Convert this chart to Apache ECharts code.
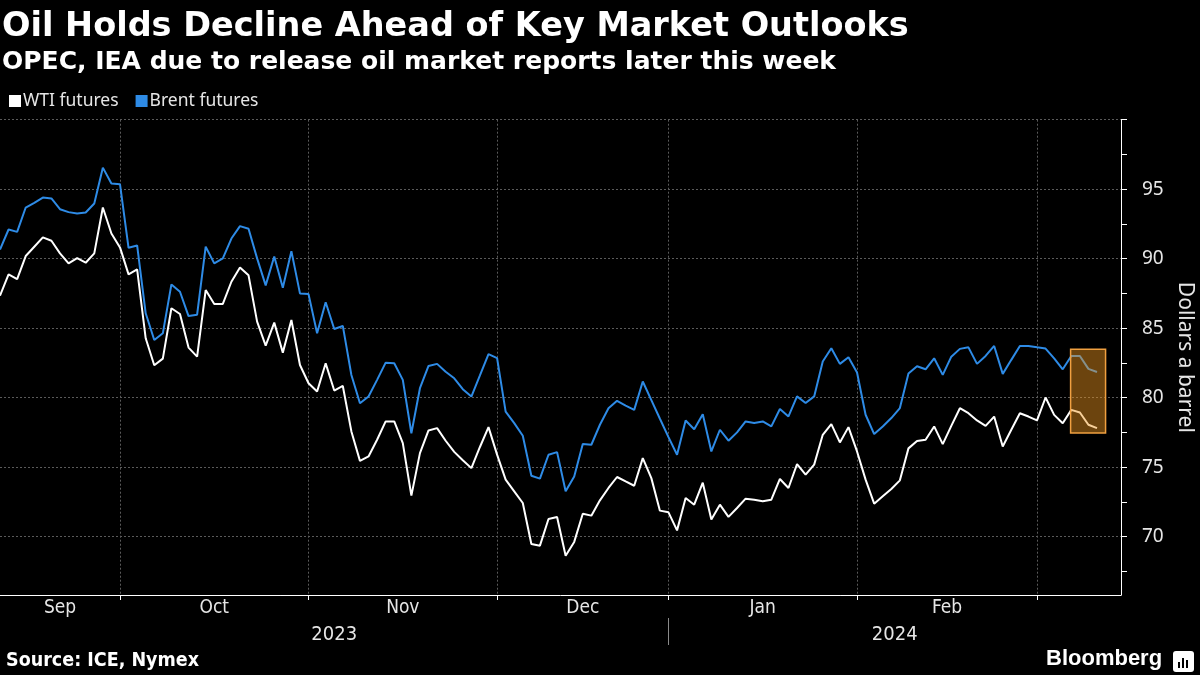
<!DOCTYPE html>
<html><head><meta charset="utf-8">
<script src="https://cdn.jsdelivr.net/npm/echarts@6/dist/echarts.min.js"></script>
<style>html,body{margin:0;padding:0;background:#000}#c{width:1200px;height:675px}</style>
</head><body><div id="c"></div>
<script>
// ---- categories: trading days per month ----
const tradingDays = [
  ['2023-09', [11,12,13,14,15,18,19,20,21,22,25,26,27,28,29]],
  ['2023-10', [2,3,4,5,6,9,10,11,12,13,16,17,18,19,20,23,24,25,26,27,30,31]],
  ['2023-11', [1,2,3,6,7,8,9,10,13,14,15,16,17,20,21,22,23,24,27,28,29,30]],
  ['2023-12', [1,4,5,6,7,8,11,12,13,14,15,18,19,20,21,22,26,27,28,29]],
  ['2024-01', [2,3,4,5,8,9,10,11,12,15,16,17,18,19,22,23,24,25,26,29,30,31]],
  ['2024-02', [1,2,5,6,7,8,9,12,13,14,15,16,19,20,21,22,23,26,27,28,29]],
  ['2024-03', [1,4,5,6,7,8,11]]
];
const monthLabels = ['Sep','Oct','Nov','Dec','Jan','Feb'];
const yearLabels = ['2023','2024'];
const yLabelValues = [70,75,80,85,90,95];
const yTickValues = [67.5,70,72.5,75,77.5,80,82.5,85,87.5,90,92.5,95,97.5,100];
const yGridValues = [70,75,80,85,90,95,100];

// ---- series values ----
const wti = [
 87.34,88.87,88.53,90.19,90.86,91.53,91.29,90.38,89.66,90.04,89.71,90.38,93.68,91.81,90.81,
 88.87,89.23,84.27,82.33,82.81,86.43,86.02,83.60,82.95,87.74,86.74,86.74,88.34,89.37,88.80,85.47,83.74,85.40,83.24,85.59,82.35,81.04,
 80.44,82.47,80.51,80.84,77.57,75.45,75.77,76.97,78.29,78.29,76.73,72.95,76.01,77.64,77.81,76.90,76.10,75.50,74.93,76.45,77.88,75.90,
 74.10,73.26,72.42,69.47,69.35,71.27,71.41,68.63,69.62,71.65,71.51,72.61,73.50,74.29,73.97,73.66,75.65,74.21,71.87,71.75,
 70.45,72.78,72.30,73.88,71.23,72.30,71.42,72.06,72.73,72.66,72.54,72.66,74.15,73.50,75.22,74.46,75.18,77.33,78.10,76.78,77.88,76.13,
 74.10,72.37,72.90,73.43,74.05,76.35,76.88,76.97,77.93,76.66,77.97,79.24,78.88,78.36,77.97,78.64,76.49,77.69,78.88,78.64,78.36,
 80.01,78.76,78.16,79.12,78.93,78.05,77.81
];
const brent = [
 90.66,92.10,91.93,93.68,94.02,94.40,94.33,93.56,93.35,93.25,93.32,93.97,96.55,95.41,95.36,
 90.78,90.95,86.07,84.15,84.63,88.15,87.62,85.87,85.97,90.86,89.66,90.02,91.45,92.34,92.15,90.02,88.08,90.16,87.91,90.54,87.50,87.45,
 84.63,86.86,84.94,85.16,81.63,79.60,80.08,81.28,82.52,82.47,81.28,77.44,80.68,82.28,82.43,81.87,81.39,80.61,80.08,81.60,83.13,82.85,
 79.00,78.17,77.26,74.38,74.17,75.89,76.08,73.26,74.33,76.66,76.61,78.05,79.24,79.77,79.43,79.12,81.16,79.82,78.48,77.16,
 75.89,78.36,77.73,78.80,76.13,77.69,76.90,77.50,78.29,78.17,78.29,77.93,79.18,78.65,80.09,79.61,80.09,82.60,83.56,82.43,82.91,81.81,
 78.77,77.38,77.93,78.53,79.25,81.73,82.26,82.04,82.83,81.64,82.95,83.51,83.62,82.43,83.00,83.72,81.71,82.72,83.72,83.72,83.62,
 83.53,82.83,82.04,83.00,83.00,82.07,81.85
];
const highlight = { from: '2024-03-06', to: '2024-03-11', low: 77.45, high: 83.48 };

// ---- derived ----
const dates = [];
const monthEnds = [];
tradingDays.forEach(([m, days]) => {
  days.forEach(d => dates.push(m + '-' + String(d).padStart(2, '0')));
  monthEnds.push(dates.length - 1);
});
const xMax = dates.length - 1 + 2.8;
const tickVals = monthEnds.slice(0, monthLabels.length);
const monthMids = tickVals.map((e, i) => ((i === 0 ? 0 : tickVals[i - 1]) + e) / 2);
const yearEnd = monthEnds[3];
const yearMids = [yearEnd / 2, (yearEnd + xMax) / 2];

const chart = echarts.init(document.getElementById('c'), null, { renderer: 'canvas' });
const labelFont = '"DejaVu Sans Condensed","DejaVu Sans",sans-serif';
const gridStyle = { color: '#5a5a5a', width: 1, type: [2, 2] };
const option = {
  backgroundColor: '#000',
  animation: false,
  title: [
    { text: 'Oil Holds Decline Ahead of Key Market Outlooks', left: 2, top: 10, padding: 0,
      textStyle: { color: '#fff', fontFamily: 'DejaVu Sans', fontWeight: 'bold', fontSize: 33.5 } },
    { text: 'OPEC, IEA due to release oil market reports later this week', left: 2, top: 50, padding: 0,
      textStyle: { color: '#fff', fontFamily: 'DejaVu Sans', fontWeight: 'bold', fontSize: 25 } },
    { text: 'Source: ICE, Nymex', left: 6, top: 651, padding: 0,
      textStyle: { color: '#fff', fontFamily: labelFont, fontWeight: 'bold', fontSize: 19.5 } }
  ],
  legend: {
    left: 9, top: 92, padding: 0, icon: 'rect', itemWidth: 12, itemHeight: 12, itemGap: 17,
    textStyle: { color: '#e6e6e6', fontSize: 17.5, fontFamily: 'Noto Sans', padding: [0, 0, 0, -3] },
    data: ['WTI futures', 'Brent futures']
  },
  grid: { left: 0, right: 79, top: 119.7, bottom: 80, containLabel: false, outerBoundsMode: 'none' },
  xAxis: [
    { type: 'value', min: 0, max: xMax,
      axisLine: { show: true, onZero: false, lineStyle: { color: '#fff', width: 1 } },
      axisTick: { show: true, customValues: tickVals, length: 5, lineStyle: { color: '#fff' } },
      axisLabel: { customValues: monthMids, formatter: v => monthLabels[monthMids.indexOf(v)] || '',
        color: '#e6e6e6', fontSize: 19, margin: 4, fontFamily: labelFont },
      splitLine: { show: true, lineStyle: gridStyle } },
    { type: 'value', min: 0, max: xMax, position: 'bottom', offset: 23,
      axisLine: { show: false, onZero: false },
      axisTick: { show: true, customValues: [yearEnd], length: 27, lineStyle: { color: '#8a8a8a' } },
      axisLabel: { customValues: yearMids, formatter: v => yearLabels[yearMids.indexOf(v)] || '',
        color: '#e6e6e6', fontSize: 20, margin: 7, fontFamily: labelFont },
      splitLine: { show: false } }
  ],
  yAxis: [
    { type: 'value', position: 'right', min: 65.8, max: 100,
      axisLine: { show: true, onZero: false, lineStyle: { color: '#fff', width: 1 } },
      axisTick: { show: true, customValues: yTickValues, length: 6, lineStyle: { color: '#fff' } },
      axisLabel: { customValues: yLabelValues, color: '#e6e6e6', fontSize: 19, margin: 8,
        padding: [0, 0, 0, 13], fontFamily: 'Noto Sans' },
      splitLine: { show: false },
      name: 'Dollars a barrel', nameLocation: 'middle', nameRotate: -90, nameGap: 52,
      nameTextStyle: { color: '#e6e6e6', fontSize: 21, fontFamily: 'Noto Sans' } }
  ],
  series: [
    { name: 'grid', type: 'line', data: [], z: 1,
      markLine: { silent: true, z: 1, symbol: ['none', 'none'], label: { show: false },
        lineStyle: gridStyle, emphasis: { disabled: true },
        data: yGridValues.map(v => ({ yAxis: v })) } },
    { name: 'WTI futures', type: 'line', data: wti.map((v, i) => [i, v]), symbol: 'none', showSymbol: false,
      lineStyle: { color: '#ffffff', width: 2 }, itemStyle: { color: '#ffffff' }, z: 3 },
    { name: 'Brent futures', type: 'line', data: brent.map((v, i) => [i, v]), symbol: 'none', showSymbol: false,
      lineStyle: { color: '#2e8be6', width: 2 }, itemStyle: { color: '#2e8be6' }, z: 2 },
    { name: 'highlight', type: 'line', data: [], z: 10,
      markArea: { silent: true, z: 10,
        itemStyle: { color: 'rgba(240,150,30,0.45)', borderColor: '#f0a040', borderWidth: 1.5 },
        data: [[ { coord: [dates.indexOf(highlight.from) - 0.08, highlight.high] },
                 { coord: [dates.indexOf(highlight.to) + 1, highlight.low] } ]] } }
  ],
  graphic: [
    { type: 'text', left: 1046, top: 648,
      style: { text: 'Bloomberg', fill: '#fff', font: 'bold 22px "Liberation Sans", Arial, sans-serif' } },
    { type: 'rect', left: 1173, top: 651, shape: { width: 21, height: 21, r: 3 }, style: { fill: '#fff' } },
    { type: 'rect', left: 1178, top: 662, shape: { width: 2, height: 6 }, style: { fill: '#000' } },
    { type: 'rect', left: 1182, top: 658, shape: { width: 2, height: 10 }, style: { fill: '#000' } },
    { type: 'rect', left: 1186, top: 660, shape: { width: 2, height: 8 }, style: { fill: '#000' } }
  ]
};
chart.setOption(option);
</script></body></html>
